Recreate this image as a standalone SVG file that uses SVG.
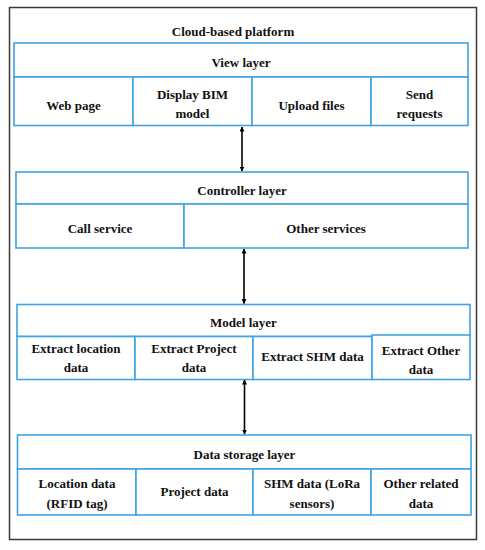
<svg xmlns="http://www.w3.org/2000/svg" width="485" height="550" viewBox="0 0 485 550">
<style>
.frame{fill:#fff;stroke:#3a3a3a;stroke-width:1.5}
.box{fill:#fff;stroke:#3fa3e3;stroke-width:1.6}
.t{font-family:"Liberation Serif","DejaVu Serif",serif;font-weight:bold;font-size:13px;fill:#111;text-anchor:middle}
.arr{stroke:#000;stroke-width:1.6;fill:none;marker-start:url(#ah);marker-end:url(#ah)}
</style>
<defs>
<marker id="ah" viewBox="0 0 10 10" refX="9" refY="5" markerWidth="5" markerHeight="5" orient="auto-start-reverse" markerUnits="userSpaceOnUse">
<path d="M0,0 L10,5 L0,10 z" fill="#000"/>
</marker>
</defs>
<rect width="485" height="550" fill="#fff"/>
<rect class="frame" x="9.5" y="7.5" width="467" height="532"/>
<text class="t" x="233" y="36">Cloud-based platform</text>

<g id="view-layer">
<rect class="box" x="14" y="43" width="454" height="34"/>
<text class="t" x="241" y="67">View layer</text>
<rect class="box" x="14" y="77" width="119" height="48.5"/>
<rect class="box" x="133" y="77" width="119" height="48.5"/>
<rect class="box" x="252" y="77" width="119" height="48.5"/>
<rect class="box" x="371" y="77" width="97" height="48.5"/>
<text class="t" x="73.5" y="110">Web page</text>
<text class="t" x="192.5" y="99">Display BIM</text>
<text class="t" x="192.5" y="118">model</text>
<text class="t" x="311.5" y="110">Upload files</text>
<text class="t" x="419.5" y="99">Send</text>
<text class="t" x="419.5" y="118">requests</text>
</g>

<g id="controller-layer">
<rect class="box" x="16" y="172" width="452" height="32"/>
<text class="t" x="242" y="195">Controller layer</text>
<rect class="box" x="16" y="204" width="168" height="44"/>
<rect class="box" x="184" y="204" width="284" height="44"/>
<text class="t" x="100" y="233">Call service</text>
<text class="t" x="326" y="233">Other services</text>
</g>

<g id="model-layer">
<rect class="box" x="17" y="304.5" width="453" height="32"/>
<text class="t" x="243.5" y="327">Model layer</text>
<rect class="box" x="17" y="336.5" width="118" height="43"/>
<rect class="box" x="135" y="336.5" width="118" height="43"/>
<rect class="box" x="253" y="336.5" width="119" height="43"/>
<rect class="box" x="372" y="335" width="98" height="44.5"/>
<text class="t" x="76" y="353">Extract location</text>
<text class="t" x="76" y="372">data</text>
<text class="t" x="194" y="353">Extract Project</text>
<text class="t" x="194" y="372">data</text>
<text class="t" x="312.5" y="361">Extract SHM data</text>
<text class="t" x="421" y="355">Extract Other</text>
<text class="t" x="421" y="374">data</text>
</g>

<g id="data-storage-layer">
<rect class="box" x="17.5" y="435" width="453.5" height="34"/>
<text class="t" x="244.5" y="459">Data storage layer</text>
<rect class="box" x="17.5" y="469" width="118.5" height="46"/>
<rect class="box" x="136" y="469" width="117" height="46"/>
<rect class="box" x="253" y="469" width="118" height="46"/>
<rect class="box" x="371" y="469" width="100" height="46"/>
<text class="t" x="77" y="488">Location data</text>
<text class="t" x="77" y="508">(RFID tag)</text>
<text class="t" x="194.5" y="496">Project data</text>
<text class="t" x="312" y="488">SHM data (LoRa</text>
<text class="t" x="312" y="508">sensors)</text>
<text class="t" x="421" y="488">Other related</text>
<text class="t" x="421" y="508">data</text>
</g>

<g id="connectors">
<line class="arr" x1="242" y1="127" x2="242" y2="171"/>
<line class="arr" x1="244" y1="249" x2="244" y2="303.5"/>
<line class="arr" x1="244.5" y1="380" x2="244.5" y2="434"/>
</g>
</svg>
